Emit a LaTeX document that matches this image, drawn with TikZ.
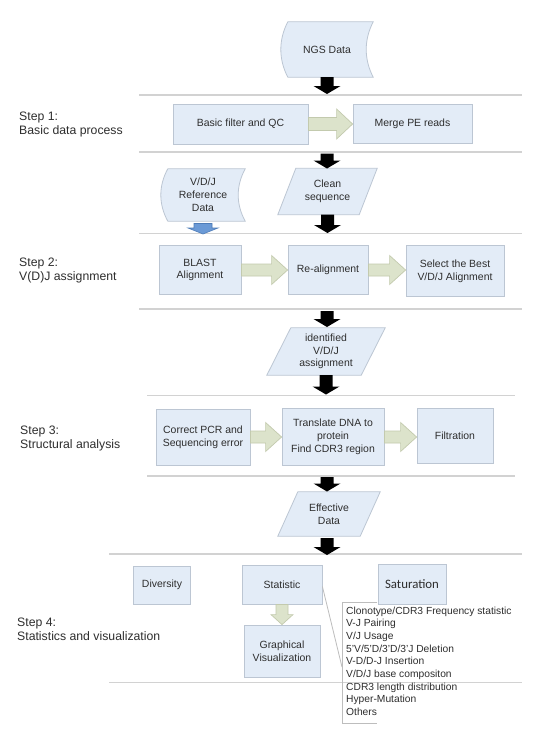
\documentclass[tikz,border=0pt]{standalone}
\usepackage{fontspec}
\setmainfont{Liberation Sans}
\newfontfamily\calib{Carlito}
\usetikzlibrary{calc,backgrounds}
\definecolor{boxfill}{HTML}{E3ECF7}
\definecolor{boxdraw}{HTML}{BCC6D3}
\definecolor{gfill}{HTML}{DCE3CB}
\definecolor{gdraw}{HTML}{C3CAAE}
\definecolor{bfill}{HTML}{6B9AD6}
\definecolor{bdraw}{HTML}{4F7DB8}
\definecolor{sepline}{HTML}{D2D2D2}
\definecolor{txt}{HTML}{2E2E2E}
\tikzset{
  pbox/.style={draw=boxdraw, fill=boxfill, line width=0.8bp, align=center, inner sep=1bp,
    font=\fontsize{10.5}{12.8}\selectfont, text=txt},
  ghost/.style={align=center, inner sep=0pt, font=\fontsize{10.5}{12.8}\selectfont, text=txt},
  shapeline/.style={draw=boxdraw, fill=boxfill, line width=0.8bp},
  sep/.style={draw=sepline, line width=1.2bp},
  bracketline/.style={draw=sepline!90!black, line width=0.8bp},
  garrow/.style={fill=gfill, draw=gdraw, line width=0.7bp},
  karrow/.style={fill=black},
  barrow/.style={fill=bfill, draw=bdraw, line width=0.6bp},
  steplabel/.style={anchor=base west, align=left, inner sep=0pt,
    font=\fontsize{12.3}{14.3}\selectfont, text=txt},
  listlabel/.style={anchor=base west, align=left, inner sep=0pt,
    font=\fontsize{10.3}{12.7}\selectfont, text=txt},
}
\newcommand\bx[6]{\node[pbox, minimum width=#4bp, minimum height=#5bp] (#1) at (#2,#3) {#6};}
\newcommand\gh[6]{\node[ghost, minimum width=#4bp, minimum height=#5bp] (#1) at (#2,#3) {#6};}
\newcommand\stored[3]{%
  \begin{pgfonlayer}{background}
  \path[shapeline] ($(#1.north west)+(#2,0)$) -- (#1.north east)
    .. controls ($(#1.north east)+(-#2*1.33,#3)$) and ($(#1.south east)+(-#2*1.33,-#3)$) .. (#1.south east)
    -- ($(#1.south west)+(#2,0)$)
    .. controls ($(#1.south west)+(#2-#2*1.33,-#3)$) and ($(#1.north west)+(#2-#2*1.33,#3)$) .. cycle;
  \end{pgfonlayer}}
\newcommand\para[2]{%
  \begin{pgfonlayer}{background}
  \path[shapeline] ($(#1.north west)+(#2,0)$) -- (#1.north east) -- ($(#1.south east)+(-#2,0)$) -- (#1.south west) -- cycle;
  \end{pgfonlayer}}
\newcommand\varrow[6]{%
  \path[#1] let \p1=(#2), \p2=(#3) in
    ({\x1-#4bp},\y1) -- ({\x1-#4bp},{\y2+#6bp}) -- ({\x1-#5bp},{\y2+#6bp}) -- (\x1,\y2)
    -- ({\x1+#5bp},{\y2+#6bp}) -- ({\x1+#4bp},{\y2+#6bp}) -- ({\x1+#4bp},\y1) -- cycle;}
\newcommand\harrow[6]{%
  \path[#1] let \p1=(#2), \p2=(#3) in
    (\x1,{\y1+#4bp}) -- ({\x2-#6bp},{\y1+#4bp}) -- ({\x2-#6bp},{\y1+#5bp}) -- (\x2,\y1)
    -- ({\x2-#6bp},{\y1-#5bp}) -- ({\x2-#6bp},{\y1-#4bp}) -- (\x1,{\y1-#4bp}) -- cycle;}
\begin{document}
\begin{tikzpicture}[x=1bp,y=-1bp]
\useasboundingbox (0,0) rectangle (541,738);
\begin{pgfonlayer}{background}
\fill[white] (0,0) rectangle (541,738);
\end{pgfonlayer}

% separator lines
\draw[sep] (139,95) -- (522,95);
\draw[sep] (139,152) -- (522,152);
\draw[sep] (139,233.5) -- (522,233.5);
\draw[sep] (139,309) -- (522,309);
\draw[sep] (147,395.5) -- (515,395.5);
\draw[sep] (147,476) -- (515,476);
\draw[sep] (109,554) -- (522,554);
\draw[sep] (109,682.5) -- (522,682.5);

% step labels (anchored at the baseline of their last line)
\node[steplabel] (s1) at (19,134.8) {Step 1:\\Basic data process};
\node[steplabel] (s2) at (19,280.8) {Step 2:\\V(D)J assignment};
\node[steplabel] (s3) at (20,448.3) {Step 3:\\Structural analysis};
\node[steplabel] (s4) at (17,640.8) {Step 4:\\Statistics and visualization};

% data shapes
\gh{ngs}{327}{49.5}{92}{55}{NGS Data}
\stored{ngs}{7}{18}
\gh{vdj}{203}{195}{84}{52}{V/D/J\\Reference\\Data}
\stored{vdj}{7}{17}
\gh{clean}{327.5}{191.5}{99}{46}{Clean\\sequence}
\para{clean}{18}
\gh{ident}{326}{351.5}{118}{47}{identified\\V/D/J\\assignment}
\para{ident}{24}
\gh{eff}{329}{514}{102}{44}{Effective\\Data}
\para{eff}{20}

% process boxes
\bx{basic}{240.5}{124}{135}{40}{Basic filter and QC}
\bx{merge}{412.5}{123.5}{119}{39}{Merge PE reads}
\bx{blast}{200}{270}{82}{49}{BLAST\\Alignment}
\bx{realign}{328}{270}{80}{49}{Re-alignment}
\bx{select}{455}{271}{98}{51}{Select the Best\\V/D/J Alignment}
\bx{correct}{203}{437}{94}{56}{Correct PCR and\\Sequencing error}
\bx{translate}{333}{437}{102}{57}{Translate DNA to\\protein\\Find CDR3 region}
\bx{filtration}{455}{435.5}{76}{55}{Filtration}
\bx{diversity}{162}{585}{57}{38}{Diversity}
\bx{statistic}{282}{584.5}{80}{39}{Statistic}
\node[pbox, minimum width=68bp, minimum height=40bp, font=\calib\fontsize{12.9}{15}\selectfont] (saturation) at (412,584) {Saturation};
\bx{graphical}{282}{651}{76}{52}{Graphical\\Visualization}

% black arrows
\coordinate (k1) at (327,94);
\coordinate (k2a) at (327,153.5);
\coordinate (k2) at (327,168.5);
\coordinate (k3) at (327,233);
\coordinate (k4a) at (327,311);
\coordinate (k4) at (327,327);
\coordinate (k5) at (327,394.5);
\coordinate (k6a) at (327,477);
\coordinate (k6) at (327,491.5);
\coordinate (k7a) at (327,538);
\coordinate (k7) at (327,555);
\varrow{karrow}{ngs.south}{k1}{6.5}{13.5}{8}
\varrow{karrow}{k2a}{k2}{6.5}{13.5}{8}
\varrow{karrow}{clean.south}{k3}{6.5}{13.5}{8}
\varrow{karrow}{k4a}{k4}{6.5}{13.5}{8}
\varrow{karrow}{ident.south}{k5}{6.5}{13.5}{8}
\varrow{karrow}{k6a}{k6}{6.5}{13.5}{8}
\varrow{karrow}{k7a}{k7}{6.5}{13.5}{8}

% blue arrow
\coordinate (b1a) at (203,223.5);
\coordinate (b1) at (203,234);
\varrow{barrow}{b1a}{b1}{9}{15}{6}

% green arrows
\harrow{garrow}{basic.east}{merge.west}{6.5}{15}{16}
\harrow{garrow}{blast.east}{realign.west}{6}{14.5}{16}
\harrow{garrow}{realign.east}{select.west}{6}{14.5}{16}
\harrow{garrow}{correct.east}{translate.west}{6}{14.5}{16}
\harrow{garrow}{translate.east}{filtration.west}{6}{14.5}{16}
\varrow{garrow}{statistic.south}{graphical.north}{6}{11}{10}

% list with bracket
\node[listlabel] (list) at (346,715.3) {Clonotype/CDR3 Frequency statistic\\V-J Pairing\\V/J Usage\\5'V/5'D/3'D/3'J Deletion\\V-D/D-J Insertion\\V/D/J base compositon\\CDR3 length distribution\\Hyper-Mutation\\Others};
\coordinate (brt) at (377,602);
\coordinate (brtl) at (342,602);
\coordinate (brbl) at (342,723);
\coordinate (brb) at (377,723);
\coordinate (brk) at (342,667);
\draw[bracketline] (brt) -- (brtl) -- (brbl) -- (brb);
\draw[bracketline] ($(statistic.east)+(0,2)$) -- (brk);
\end{tikzpicture}
\end{document}
